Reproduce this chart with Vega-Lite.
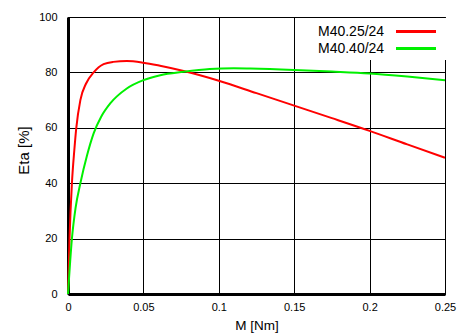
{
  "$schema": "https://vega.github.io/schema/vega-lite/v6.json",
  "width": 377,
  "height": 277,
  "autosize": {"type": "none"},
  "padding": {"left": 68, "top": 17, "right": 26, "bottom": 40},
  "background": "white",
  "config": {
    "font": "Liberation Sans",
    "view": {"stroke": "#000", "strokeWidth": 1},
    "axis": {
      "grid": true, "gridColor": "#000", "gridOpacity": 1, "gridWidth": 1,
      "ticks": false, "domainColor": "#000", "domainWidth": 3, "labelFlush": false,
      "labelFont": "Liberation Sans", "labelFontSize": 11, "labelColor": "#000",
      "titleFont": "Liberation Sans", "titleFontSize": 13.5, "titleFontWeight": "normal", "titleColor": "#000"
    }
  },
  "data": {"values": [
    {"M": 0, "eta": 0, "motor": "M40.25/24"},
    {"M": 0.001, "eta": 20, "motor": "M40.25/24"},
    {"M": 0.0026, "eta": 40, "motor": "M40.25/24"},
    {"M": 0.0042, "eta": 52, "motor": "M40.25/24"},
    {"M": 0.0055, "eta": 60, "motor": "M40.25/24"},
    {"M": 0.0082, "eta": 70, "motor": "M40.25/24"},
    {"M": 0.012, "eta": 76, "motor": "M40.25/24"},
    {"M": 0.017, "eta": 80, "motor": "M40.25/24"},
    {"M": 0.0236, "eta": 83, "motor": "M40.25/24"},
    {"M": 0.03, "eta": 83.8, "motor": "M40.25/24"},
    {"M": 0.039, "eta": 84.1, "motor": "M40.25/24"},
    {"M": 0.05, "eta": 83.5, "motor": "M40.25/24"},
    {"M": 0.061, "eta": 82.4, "motor": "M40.25/24"},
    {"M": 0.0767, "eta": 80.5, "motor": "M40.25/24"},
    {"M": 0.1, "eta": 77, "motor": "M40.25/24"},
    {"M": 0.125, "eta": 72.5, "motor": "M40.25/24"},
    {"M": 0.15, "eta": 68, "motor": "M40.25/24"},
    {"M": 0.175, "eta": 63.5, "motor": "M40.25/24"},
    {"M": 0.2, "eta": 58.9, "motor": "M40.25/24"},
    {"M": 0.225, "eta": 54, "motor": "M40.25/24"},
    {"M": 0.25, "eta": 49.2, "motor": "M40.25/24"},
    {"M": 0, "eta": 0, "motor": "M40.40/24"},
    {"M": 0.0026, "eta": 20, "motor": "M40.40/24"},
    {"M": 0.005, "eta": 31, "motor": "M40.40/24"},
    {"M": 0.0082, "eta": 40, "motor": "M40.40/24"},
    {"M": 0.0126, "eta": 50, "motor": "M40.40/24"},
    {"M": 0.017, "eta": 58, "motor": "M40.40/24"},
    {"M": 0.022, "eta": 64, "motor": "M40.40/24"},
    {"M": 0.028, "eta": 68.8, "motor": "M40.40/24"},
    {"M": 0.039, "eta": 74.2, "motor": "M40.40/24"},
    {"M": 0.05, "eta": 77.2, "motor": "M40.40/24"},
    {"M": 0.0612, "eta": 79, "motor": "M40.40/24"},
    {"M": 0.0767, "eta": 80.2, "motor": "M40.40/24"},
    {"M": 0.094, "eta": 81.2, "motor": "M40.40/24"},
    {"M": 0.11, "eta": 81.5, "motor": "M40.40/24"},
    {"M": 0.121, "eta": 81.4, "motor": "M40.40/24"},
    {"M": 0.15, "eta": 80.9, "motor": "M40.40/24"},
    {"M": 0.175, "eta": 80.3, "motor": "M40.40/24"},
    {"M": 0.2, "eta": 79.6, "motor": "M40.40/24"},
    {"M": 0.225, "eta": 78.5, "motor": "M40.40/24"},
    {"M": 0.25, "eta": 77.2, "motor": "M40.40/24"}
  ]},
  "mark": {"type": "line", "interpolate": "monotone", "strokeWidth": 2},
  "encoding": {
    "x": {
      "field": "M", "type": "quantitative", "title": "M [Nm]",
      "scale": {"domain": [0, 0.25], "nice": false},
      "axis": {"values": [0, 0.05, 0.1, 0.15, 0.2, 0.25], "format": "~g", "labelPadding": 7, "titlePadding": 6}
    },
    "y": {
      "field": "eta", "type": "quantitative", "title": "Eta [%]",
      "scale": {"domain": [0, 100], "nice": false},
      "axis": {"values": [0, 20, 40, 60, 80, 100], "labelPadding": 11, "titlePadding": 7, "titleFontSize": 15, "titleY": 133}
    },
    "color": {
      "field": "motor", "type": "nominal", "title": null,
      "scale": {"domain": ["M40.25/24", "M40.40/24"], "range": ["#ff0000", "#00f000"]},
      "legend": {
        "orient": "none", "legendX": 246, "legendY": 1,
        "fillColor": "white", "padding": 4,
        "symbolType": "M-2.5,0H2.5", "symbolSize": 256, "symbolStrokeWidth": 3,
        "labelFontSize": 14, "labelColor": "#000", "labelFont": "Liberation Sans",
        "labelOffset": -107.5, "symbolOffset": 88.5, "rowPadding": 0
      }
    }
  }
}
